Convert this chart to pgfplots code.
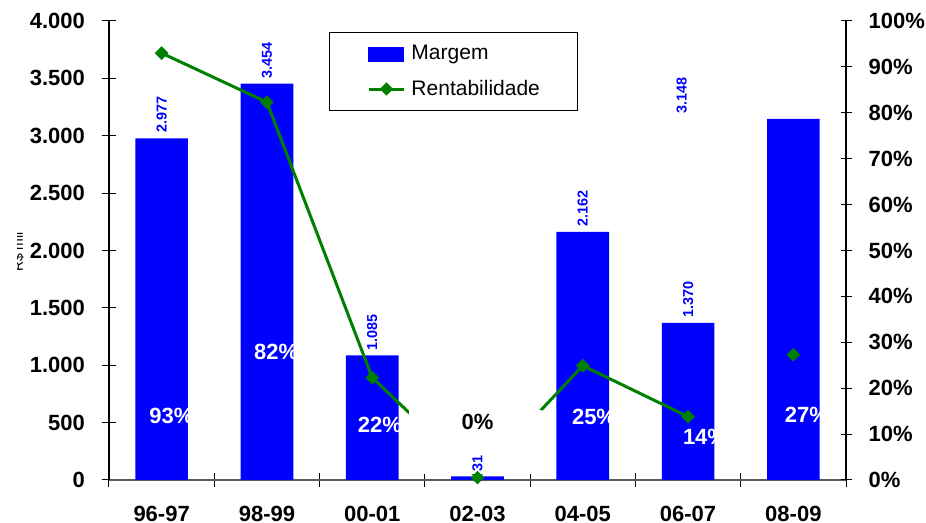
\documentclass[border=0pt]{standalone}
\usepackage{pgfplots}
\pgfplotsset{compat=1.18}
\usepackage{fontspec}
\setmainfont{Liberation Sans}
\definecolor{gcol}{RGB}{0,128,0}
\definecolor{bcol}{RGB}{0,0,255}
\begin{document}
\begin{tikzpicture}
\useasboundingbox (-54.5pt,-21.5pt) rectangle (408.5pt,240pt);
\tikzset{tfont/.style={font=\fontsize{11}{13}\selectfont\bfseries}}
\pgfplotsset{
  base/.style={scale only axis, width=368.5pt, height=229.5pt,
    xmin=-0.5, xmax=6.5, at={(0,0)}, anchor=south west, clip=false,
    /pgf/number format/assume math mode=true},
}
% left axis: bars
\begin{axis}[base, ymin=0, ymax=4000,
    axis y line*=left, axis x line*=bottom,
    xtick={-0.5,0.5,...,6.5}, x tick label as interval,
    xticklabels={96-97,98-99,00-01,02-03,04-05,06-07,08-09},
    ytick={0,500,...,4000},
    tick align=center, major tick length=7pt,
    ytick style={black, line width=0.5pt, draw=black, /pgfplots/major tick length=7pt},
    xtick style={black, line width=0.5pt},
    y axis line style={black, line width=0.8pt},
    x axis line style={black!65, line width=1pt},
    ticklabel style={tfont},
    yticklabel style={/pgf/number format/fixed, /pgf/number format/precision=0,
      /pgf/number format/1000 sep={.}, xshift=-5pt},
    xticklabel style={yshift=-6pt},
  ]
\addplot[ybar, bar width=0.5, fill=bcol, draw=none] coordinates {
  (0,2977) (1,3454) (2,1085) (3,31) (4,2162) (5,1370) (6,3148)};
\end{axis}
% right axis: rentabilidade
\begin{axis}[base, ymin=0, ymax=100,
    axis y line*=right, axis x line=none,
    ytick={0,10,...,100}, yticklabel={\pgfmathprintnumber{\tick}\%},
    tick align=center, major tick length=5.5pt,
    tick style={black, line width=0.5pt},
    y axis line style={black, line width=0.8pt},
    ticklabel style={tfont}, yticklabel style={xshift=5pt},
    legend cell align=left,
    legend style={at={(0.2985,0.976)}, anchor=north west, draw=black, line width=0.5pt,
      font=\fontsize{10.5}{12}\selectfont, inner xsep=19pt, inner ysep=2pt,
      column sep=3pt, nodes={inner sep=0pt, minimum height=17.5pt}},
  ]
\addlegendimage{legend image code/.code={\fill[bcol] (0pt,-3.5pt) rectangle (17.5pt,3.5pt);}}
\addlegendentry{Margem}
\addlegendimage{legend image code/.code={
  \draw[gcol, line width=1.5pt] (0pt,0pt) -- (17.5pt,0pt);
  \fill[gcol] (8.75pt,3pt) -- (11.75pt,0pt) -- (8.75pt,-3pt) -- (5.75pt,0pt) -- cycle;}}
\addlegendentry{Rentabilidade}
\addplot[gcol, line width=1.5pt, mark=none, forget plot] coordinates {
  (0,93) (1,82.3) (2,22.3) (3,0.5) (4,24.9) (5,13.8)};
\fill[white] (axis cs:2.35,1.3) rectangle (axis cs:3.61,15.3);
\node[tfont, black] at (axis cs:3,12.6) {0\%};
\addplot[only marks, mark=square*, mark size=2.2pt, mark options={rotate=45, fill=gcol, draw=gcol},
  forget plot] coordinates {
  (0,93) (1,82.3) (2,22.3) (3,0.5) (4,24.9) (5,13.8) (6,27.3)};
\end{axis}
% labels on top
\begin{axis}[base, ymin=0, ymax=4000, hide axis]
\addplot[draw=none, mark=none, point meta=y,
  nodes near coords={\pgfmathprintnumber[fixed,precision=0,1000 sep={.}]{\pgfplotspointmeta}},
  nodes near coords style={rotate=90, anchor=west, text=bcol,
    font=\fontsize{7.2}{8}\selectfont\bfseries, inner sep=2.5pt}]
  coordinates {(0,2977) (1,3454) (2,1085) (3,31) (4,2162) (5,1370)};
\node[rotate=90, anchor=west, text=bcol, font=\fontsize{7.2}{8}\selectfont\bfseries,
  inner sep=2.5pt] at (axis cs:4.94,3148) {3.148};
\node[tfont, white, anchor=west, inner sep=0pt] at (axis cs:-0.12,560) {93\%};
\node[tfont, white, anchor=west, inner sep=0pt] at (axis cs:0.874,1118) {82\%};
\node[tfont, white, anchor=west, inner sep=0pt] at (axis cs:1.861,480) {22\%};
\node[tfont, white, anchor=west, inner sep=0pt] at (axis cs:3.894,550) {25\%};
\node[tfont, white, anchor=west, inner sep=0pt] at (axis cs:4.948,376) {14\%};
\node[tfont, white, anchor=west, inner sep=0pt] at (axis cs:5.916,568) {27\%};
\end{axis}
\node[rotate=90, anchor=base, font=\fontsize{7}{8}\selectfont] at (-43pt,114pt) {R\$ mil};
\fill[white] (-54.5pt,90pt) rectangle (-46pt,140pt);
\end{tikzpicture}
\end{document}
